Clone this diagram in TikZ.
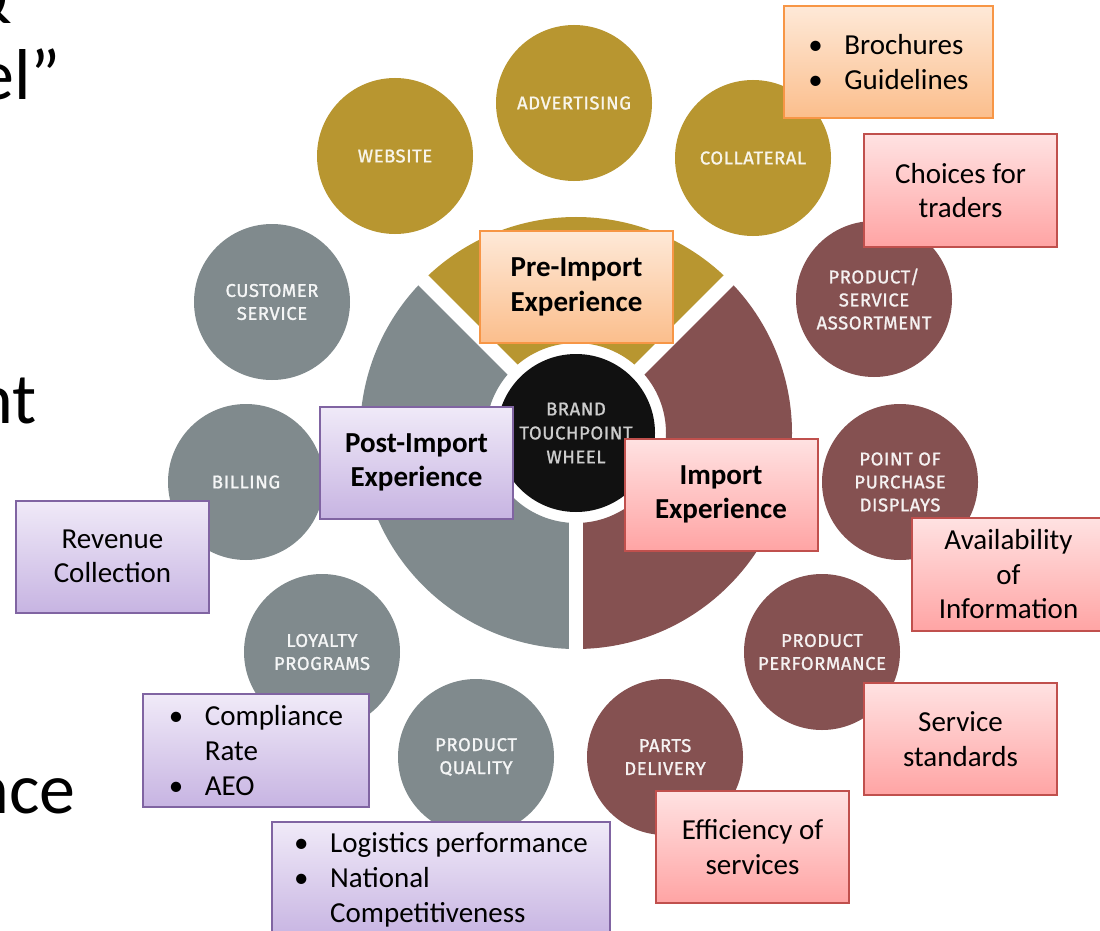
\documentclass[tikz,border=0pt]{standalone}
\usepackage{fontspec}
\setmainfont{Carlito}
\newfontfamily\wheelfont[LetterSpace=3, FakeBold=1.2]{Fira Sans}
\usetikzlibrary{calc}

\definecolor{gold}{RGB}{184,150,48}
\definecolor{slate}{RGB}{128,138,141}
\definecolor{maroon}{RGB}{133,81,81}
\definecolor{hubblack}{RGB}{17,17,17}
\definecolor{hubtext}{RGB}{205,205,205}
\definecolor{orangeline}{RGB}{247,150,70}
\definecolor{orangetop}{RGB}{254,233,216}
\definecolor{orangebot}{RGB}{251,190,140}
\definecolor{redline}{RGB}{192,80,77}
\definecolor{redtop}{RGB}{255,226,226}
\definecolor{redbot}{RGB}{255,164,164}
\definecolor{purpleline}{RGB}{128,100,162}
\definecolor{purpletop}{RGB}{240,234,248}
\definecolor{purplebot}{RGB}{199,180,226}

% bullet with a hanging indent, and the matching indent for continued lines
\newcommand{\itemdot}{\makebox[36pt][l]{\textbullet}}
\newcommand{\itemgap}{\hspace*{36pt}}

\begin{document}
\begin{tikzpicture}[
  x=1pt, y=-1pt,
  bigtext/.style={inner sep=0pt, anchor=base east, font=\fontsize{72}{86}\selectfont},
  touch/.style={circle, inner sep=0pt, minimum size=156pt, align=center,
    font=\wheelfont\fontsize{18.5}{23}\selectfont},
  goldtp/.style={touch, fill=gold, text=gold!10!white},
  slatetp/.style={touch, fill=slate, text=slate!8!white},
  maroontp/.style={touch, fill=maroon, text=maroon!8!white},
  card/.style={rectangle, line width=2pt, minimum width=193pt, minimum height=112pt,
    inner sep=3pt, align=center, font=\fontsize{29}{34.5}\selectfont},
  titlefont/.style={font=\bfseries\fontsize{29}{34.5}\selectfont},
  orangecard/.style={card, draw=orangeline, top color=orangetop, bottom color=orangebot},
  redcard/.style={card, draw=redline, top color=redtop, bottom color=redbot},
  purplecard/.style={card, draw=purpleline, top color=purpletop, bottom color=purplebot},
  listtext/.style={align=left, inner sep=0pt, font=\fontsize{29}{35}\selectfont},
]
\useasboundingbox (0,0) rectangle (1100,931);
\clip (0,0) rectangle (1100,931);
\fill[white] (0,0) rectangle (1100,931);

% slide title fragments at the left edge
\node[bigtext] (amp) at (12,24) {\&};
\node[bigtext] (ttlA) at (61,100) {el”};
\node[bigtext] (ttlB) at (37,423) {nt};
\node[bigtext] (ttlC) at (76,813) {nce};

% the three experience sectors around the hub
\coordinate (hub) at (576,433);
\fill[gold] ($(hub)+(45:216pt)$) arc[start angle=45,end angle=135,radius=216pt]
  -- ($(hub)+(135:90pt)$) arc[start angle=135,end angle=45,radius=90pt] -- cycle;
\fill[slate] ($(hub)+(135:216pt)$) arc[start angle=135,end angle=270,radius=216pt]
  -- ($(hub)+(270:90pt)$) arc[start angle=270,end angle=135,radius=90pt] -- cycle;
\fill[maroon] ($(hub)+(-90:216pt)$) arc[start angle=-90,end angle=45,radius=216pt]
  -- ($(hub)+(45:90pt)$) arc[start angle=45,end angle=-90,radius=90pt] -- cycle;
\foreach \a in {45,135,270}
  \draw[white, line width=14pt] (hub) -- ($(hub)+(\a:235pt)$);

\node[circle, fill=hubblack, minimum size=158pt, inner sep=0pt, align=center,
  text=hubtext, font=\wheelfont\fontsize{18.5}{24}\selectfont] (brand) at (hub)
  {BRAND\\TOUCHPOINT\\WHEEL};

% touchpoints on the outer ring
\node[goldtp] (website) at (395,156) {WEBSITE};
\node[goldtp] (advert) at (574,103) {ADVERTISING};
\node[goldtp] (collat) at (753,158) {COLLATERAL};
\node[slatetp] (custserv) at (272,302) {CUSTOMER\\SERVICE};
\node[maroontp] (assort) at (874,299) {PRODUCT/\\SERVICE\\ASSORTMENT};
\node[slatetp] (billing) at (246,482) {BILLING};
\node[maroontp] (pop) at (900,482) {POINT OF\\PURCHASE\\DISPLAYS};
\node[slatetp] (loyalty) at (322,652) {LOYALTY\\PROGRAMS};
\node[maroontp] (perform) at (822,652) {PRODUCT\\PERFORMANCE};
\node[slatetp] (quality) at (476,757) {PRODUCT\\QUALITY};
\node[maroontp] (parts) at (665,757) {PARTS\\DELIVERY};

% pre-import experience
\node[orangecard, titlefont] (pre) at (576.5,287) {Pre-Import\\Experience};
\node[orangecard, minimum width=209pt] (media) at (888.5,62) {};
\node[listtext] (mediatext) at (media.center) {\itemdot Brochures\\\itemdot Guidelines};

% import experience
\node[redcard, titlefont] (imp) at (721,494.5) {Import\\Experience};
\node[redcard] (choices) at (960.5,190.5) {Choices for\\traders};
\node[redcard, minimum height=113pt] (avail) at (1008.5,574.5)
  {Availability\\of\\Information};
\node[redcard] (service) at (960.5,739) {Service\\standards};
\node[redcard] (effic) at (752.5,847) {Efficiency of\\services};

% post-import experience
\node[purplecard, titlefont] (post) at (416.5,462.5) {Post-Import\\Experience};
\node[purplecard] (revenue) at (112.5,556.5) {Revenue\\Collection};
\node[purplecard, minimum width=226pt, minimum height=113pt] (comply) at (256,750.5) {};
\node[listtext] (complytext) at (comply.center)
  {\itemdot Compliance\\\itemgap Rate\\\itemdot AEO};
\node[purplecard, minimum width=338pt, minimum height=116pt] (logist) at (441,880) {};
\node[listtext] (logisttext) at (logist.center)
  {\itemdot Logistics performance\\\itemdot National\\\itemgap Competitiveness};
\end{tikzpicture}
\end{document}
